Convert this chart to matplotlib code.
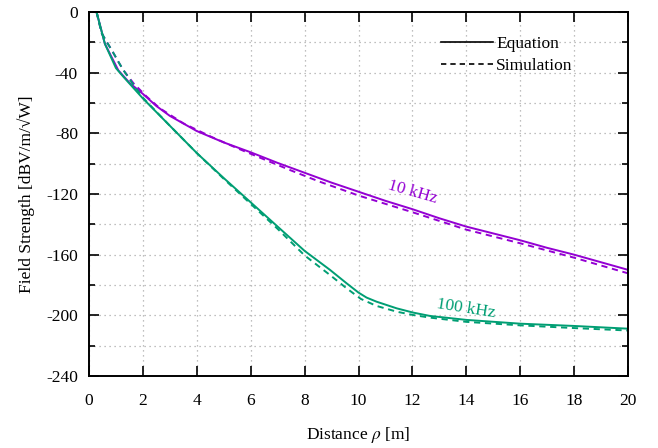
import matplotlib
matplotlib.use("Agg")
import matplotlib.pyplot as plt
from matplotlib.ticker import MultipleLocator

PURPLE = "#9400d3"
GREEN = "#009e73"

# 10 kHz
x_10k_eq = [0.28, 0.59, 1.09, 1.52, 2, 2.5, 3, 4, 5, 6, 7, 8, 9, 10, 11, 12, 13, 14, 15,
            16, 17, 18, 19, 20]
y_10k_eq = [0, -21, -38.5, -47, -54, -62, -68.5, -78.5, -86, -92.5, -99.5, -106, -112.5, -118.5,
            -124.5, -130, -136, -141.5, -146, -150.5, -155.5, -160, -165, -170]
x_10k_sim = [0.28, 0.47, 0.65, 0.84, 1.09, 1.27, 1.65, 2.14, 2.63, 3.5, 4.5, 5.5, 6.5, 7.5, 8.5,
             10, 12, 14, 16, 18, 20]
y_10k_sim = [0, -14, -19.5, -25, -32.8, -38.2, -47, -55.8, -63.5, -73.4, -82, -89.8, -97.2,
             -104.5, -111.5, -121, -132, -143.5, -152.5, -162, -172.3]

# 100 kHz
x_100k_eq = [0.28, 0.59, 1.0, 1.27, 2, 3, 4, 5, 6, 7, 8, 8.94, 9.56, 10, 10.3, 10.67, 11.42,
             12.03, 12.65, 14, 16, 18, 20]
y_100k_eq = [0, -21, -37, -42.6, -57, -75, -93, -109.5, -125.5, -141.5, -157.5, -170, -178.9,
             -185, -188.3, -191, -195.4, -198.2, -200.4, -203, -205.5, -207, -208.8]
x_100k_sim = [0.28, 0.47, 0.65, 0.84, 1.09, 1.27, 1.65, 2, 3, 4, 5, 6, 7, 8, 8.94, 9.56, 10.09,
              10.67, 11.42, 12.03, 12.65, 14, 16, 18, 20]
y_100k_sim = [0, -14, -19.5, -25, -32.8, -38.2, -48, -56.5, -75, -93, -110, -126.5, -143,
              -160.5, -173.4, -182.2, -189.2, -193.8, -197.6, -199.8, -201.5, -204.3, -206.6,
              -208.4, -210]

plt.rcParams["font.family"] = ["Liberation Serif", "DejaVu Serif"]
plt.rcParams["mathtext.fontset"] = "stix"
plt.rcParams["axes.unicode_minus"] = False

fig = plt.figure(figsize=(6.58, 4.48), dpi=100)
ax = fig.add_axes([89 / 658, 1 - 376 / 448, 539 / 658, 364 / 448])

dash = (0, (3.2, 2.4))
ax.plot(x_10k_eq, y_10k_eq, color=PURPLE, lw=1.4)
ax.plot(x_10k_sim, y_10k_sim, color=PURPLE, lw=1.4, linestyle=dash)
ax.plot(x_100k_eq, y_100k_eq, color=GREEN, lw=1.4)
ax.plot(x_100k_sim, y_100k_sim, color=GREEN, lw=1.4, linestyle=dash)

# legend proxies
ax.plot([], [], color="black", lw=1.2, label="Equation")
ax.plot([], [], color="black", lw=1.2, linestyle=dash, label="Simulation")
ax.legend(loc="upper right", bbox_to_anchor=(0.897, 0.935), frameon=False, fontsize=12.5,
          handlelength=3.0, handletextpad=0.15, borderpad=0, borderaxespad=0, labelspacing=0.35)

ax.text(12.0, -118.5, "10 kHz", color=PURPLE, fontsize=12.5,
        rotation=-16, ha="center", va="center")
ax.text(14.0, -195.5, "100 kHz", color=GREEN, fontsize=12.5,
        rotation=-9, ha="center", va="center")

ax.set_xlim(0, 20)
ax.set_ylim(-240, 0)
ax.xaxis.set_major_locator(MultipleLocator(2))
ax.yaxis.set_major_locator(MultipleLocator(40))
ax.yaxis.set_minor_locator(MultipleLocator(20))
ax.tick_params(which="both", direction="in", top=True, right=True, labelsize=12.5, width=1.2)
ax.tick_params(which="major", length=7, pad=8)
ax.tick_params(which="minor", length=4)
ax.tick_params(axis="x", pad=12.5)
ax.grid(True, which="major", axis="x", color="#aaaaaa", linestyle=(0, (1, 3)), lw=0.9)
ax.grid(True, which="both", axis="y", color="#aaaaaa", linestyle=(0, (1, 3)), lw=0.9)
for s in ax.spines.values():
    s.set_linewidth(1.4)

ax.set_xlabel(r"Distance $\rho$ [m]", fontsize=12.5, labelpad=11)
ax.set_ylabel("Field Strength [dBV/m/\u221aW]", fontsize=12.5, labelpad=8)

fig.savefig("out.png", dpi=100)
